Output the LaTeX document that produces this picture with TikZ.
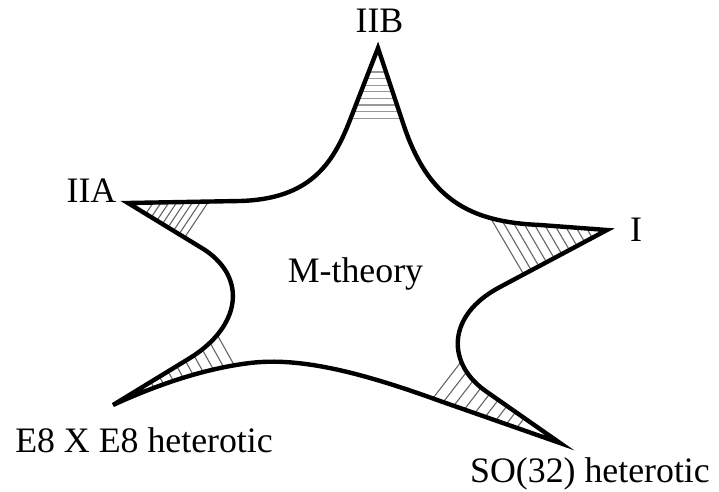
\documentclass[tikz,border=0pt]{standalone}
\usepackage{fontspec}
\setmainfont{Liberation Serif}

% outline of the moduli space
\def\mspace{(378,48) -- (403,123) .. controls (428,200) and (470,222) .. (540,225) -- (607,230)
  -- (500,287) .. controls (445,316) and (447,365) .. (487,392) -- (560,443)
  -- (440,401) .. controls (360,372) and (300,357) .. (250,363) .. controls (200,369) and (150,388) .. (113,405)
  -- (190,358) .. controls (240,327) and (248,279) .. (205,250) -- (128,203)
  -- (240,201) .. controls (310,199) and (333,164) .. (350,120) -- cycle}

\begin{document}
\begin{tikzpicture}[x=0.5pt, y=-0.5pt,
    starline/.style={line width=2.2pt, line join=miter},
    hatchline/.style={black!60, line width=0.55pt},
    theory/.style={font=\fontsize{17.9}{20}\selectfont, anchor=base, inner sep=0pt}]
  \useasboundingbox (0,0) rectangle (719,492);

  % hatching near the corners
  \begin{scope}
    \clip \mspace;
    \foreach \i in {0,...,7}
      \draw[hatchline, black!40] (330,72+6.6*\i) -- (430,72+6.6*\i);
    \foreach \i in {0,...,7}
      \draw[hatchline] (159+7.8*\i,194) -- (123+7.8*\i,248);
    \foreach \i in {0,...,9}
      \draw[hatchline] (490+10*\i,217) -- (527+10*\i,280);
    \foreach \i in {0,...,8}
      \draw[hatchline] (155+11.6*\i+17,420) -- (155+11.6*\i-50,300);
    \foreach \i in {0,...,8} {
      \pgfmathsetmacro\xb{433+10.5*\i}
      \pgfmathsetmacro\yb{401+0.35*(\xb-440)}
      \draw[hatchline] (\xb-8,\yb+10) -- (\xb+46,\yb-60);
    }
  \end{scope}

  \draw[starline] \mspace;

  % names of the limits
  \node[theory] (iib) at (379.5,33) {IIB};
  \node[theory] (iia) at (91.5,203) {IIA};
  \node[theory] (one) at (636,242) {I};
  \node[theory] (mth) at (355.5,283) {M-theory};
  \node[theory] (eight) at (144,452) {E8 X E8 heterotic};
  \node[theory] (so) at (590,482) {SO(32) heterotic};
\end{tikzpicture}
\end{document}
